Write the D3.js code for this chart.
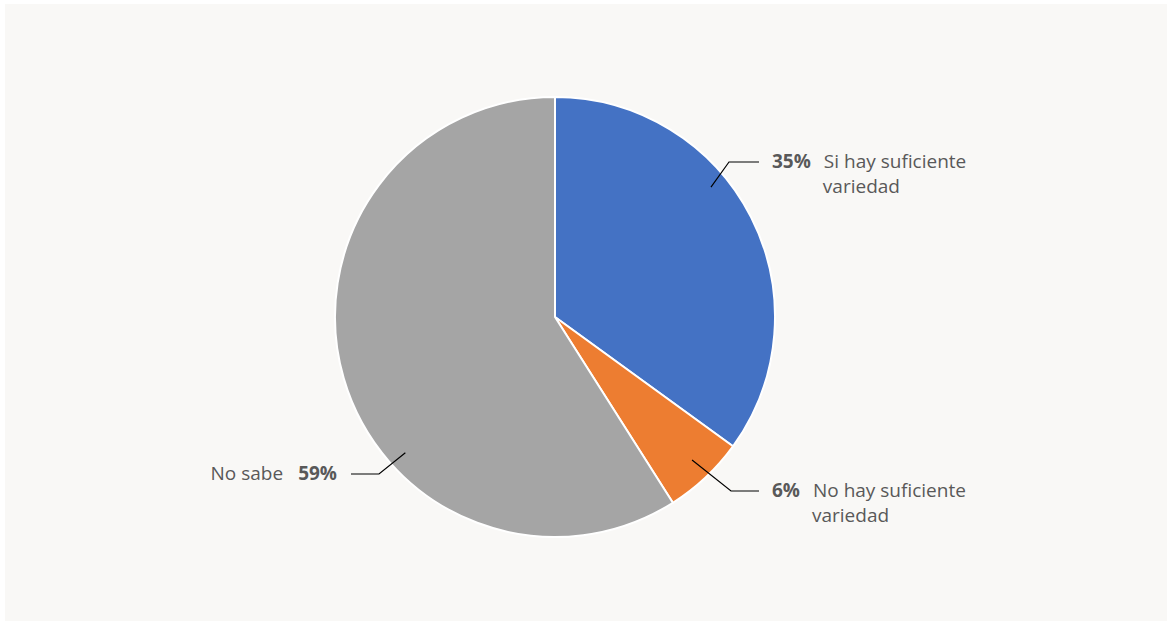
<!DOCTYPE html>
<html>
<head>
<meta charset="utf-8">
<script src="https://cdn.jsdelivr.net/npm/d3@7"></script>
<style>
  body { margin:0; background:#ffffff; }
  svg { display:block; }
</style>
</head>
<body>
<svg></svg>
<script>
var categories = ['Si hay suficiente variedad', 'No hay suficiente variedad', 'No sabe'];
var values = [35, 6, 59];
var labelLines = [['Si hay suficiente', 'variedad'], ['No hay suficiente', 'variedad'], ['No sabe']];
var colors = ['#4472C4', '#ED7D31', '#A5A5A5'];

var svgwidth = 1172;
var svgheight = 626;

var svg = d3.select('svg').attr('width', svgwidth).attr('height', svgheight);

svg.append('rect')
   .attr('x', 5).attr('y', 4)
   .attr('width', 1162).attr('height', 617)
   .attr('fill', '#F9F8F6');

var cx = 555, cy = 317, radius = 220;

var pie = d3.pie().sort(null).value(function(d){ return d; });
var arcs = pie(values);

var arc = d3.arc().innerRadius(0).outerRadius(radius);

var plot = svg.append('g').attr('transform', 'translate(' + cx + ',' + cy + ')');

plot.selectAll('path')
    .data(arcs)
    .enter()
    .append('path')
    .attr('d', arc)
    .attr('fill', function(d, i){ return colors[i]; })
    .attr('stroke', '#ffffff')
    .attr('stroke-width', 2)
    .attr('stroke-linejoin', 'round');

// leader line layout (angle in degrees from top, radius of start point, elbow, end)
var layout = [
  { angle: 50.2, r: 203, elbow: [174, -155], end: [204, -155], side: 'right' },
  { angle: 136.2, r: 198, elbow: [176, 174], end: [204, 174], side: 'right' },
  { angle: 227.8, r: 202, elbow: [-176, 157], end: [-204, 157], side: 'left' }
];

var font = "'Open Sans', sans-serif";
var fontSize = 19;

arcs.forEach(function(d, i){
  var L = layout[i];
  var a = L.angle * Math.PI / 180;
  var sx = L.r * Math.sin(a), sy = -L.r * Math.cos(a);
  plot.append('polyline')
      .attr('points', [[sx, sy], L.elbow, L.end].map(function(p){ return p.join(','); }).join(' '))
      .attr('fill', 'none')
      .attr('stroke', '#000000')
      .attr('stroke-width', 1.2);

  var pct = Math.round(d.data) + '%';
  var lines = labelLines[i];
  var ty = L.end[1] + 6;
  if (L.side === 'right') {
    var tx = L.end[0] + 13;
    var t = plot.append('text')
        .attr('x', tx).attr('y', ty)
        .attr('font-family', font).attr('font-size', fontSize)
        .attr('fill', '#595959');
    t.append('tspan').attr('font-weight', 'bold').text(pct);
    var pw = t.node().getComputedTextLength();
    var lx = tx + pw + 13;
    plot.append('text')
        .attr('x', lx).attr('y', ty)
        .attr('font-family', font).attr('font-size', fontSize)
        .attr('fill', '#595959')
        .text(lines[0]);
    if (lines[1]) {
      plot.append('text')
          .attr('x', lx - 1).attr('y', ty + 25)
          .attr('font-family', font).attr('font-size', fontSize)
          .attr('fill', '#595959')
          .text(lines[1]);
    }
  } else {
    var rx = L.end[0] - 14;
    var p = plot.append('text')
        .attr('x', rx).attr('y', ty)
        .attr('text-anchor', 'end')
        .attr('font-family', font).attr('font-size', fontSize)
        .attr('font-weight', 'bold')
        .attr('fill', '#595959')
        .text(pct);
    var w = p.node().getComputedTextLength();
    plot.append('text')
        .attr('x', rx - w - 15).attr('y', ty)
        .attr('text-anchor', 'end')
        .attr('font-family', font).attr('font-size', fontSize)
        .attr('fill', '#595959')
        .text(lines[0]);
  }
});
</script>
</body>
</html>
